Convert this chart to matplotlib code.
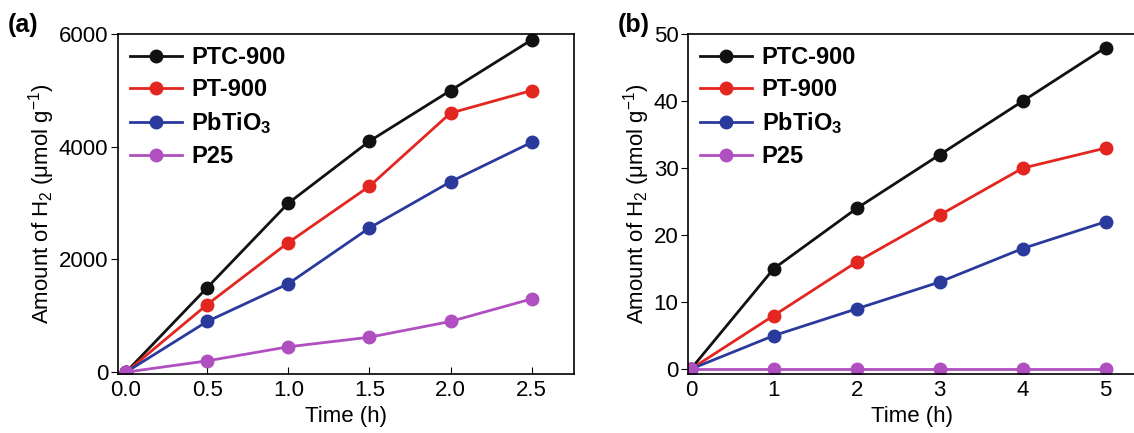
import numpy as np
import matplotlib
matplotlib.use('Agg')
from matplotlib import pyplot as plt

plt.rcParams['font.family'] = ['Liberation Sans', 'DejaVu Sans']
plt.rcParams['mathtext.default'] = 'regular'

labels = ['PTC-900', 'PT-900', 'PbTiO$_3$', 'P25']
colors = ['#111111', '#e3261f', '#2a3a9c', '#b04fc0']

# panel (a)
t_a = [0, 0.5, 1.0, 1.5, 2.0, 2.5]
ptc_a = [0, 1500, 3000, 4100, 5000, 5900]
pt_a = [0, 1200, 2300, 3300, 4600, 5000]
pbt_a = [0, 900, 1570, 2560, 3380, 4080]
p25_a = [0, 200, 450, 620, 900, 1300]

# panel (b)
t_b = [0, 1, 2, 3, 4, 5]
ptc_b = [0, 15, 24, 32, 40, 48]
pt_b = [0, 8, 16, 23, 30, 33]
pbt_b = [0, 5, 9, 13, 18, 22]
p25_b = [0, 0, 0, 0, 0, 0]

fig = plt.figure(figsize=(11.34, 4.33), dpi=100)
ax1 = fig.add_axes([0.104, 0.136, 0.402, 0.785])
ax2 = fig.add_axes([0.607, 0.136, 0.395, 0.785])

for ax, t, series in [(ax1, t_a, [ptc_a, pt_a, pbt_a, p25_a]),
                      (ax2, t_b, [ptc_b, pt_b, pbt_b, p25_b])]:
    for y, c, lab in zip(series, colors, labels):
        ax.plot(t, y, '-o', color=c, lw=2, ms=9, mec=c, label=lab)
    ax.set_xlabel('Time (h)', fontsize=16, labelpad=4)
    ax.set_ylabel('Amount of H$_2$ ($\\mu$mol g$^{-1}$)', fontsize=16, labelpad=1)
    ax.tick_params(axis='x', direction='in', length=5, labelsize=16, pad=4)
    ax.tick_params(axis='y', direction='out', length=5, labelsize=16, pad=2)
    for s in ax.spines.values():
        s.set_linewidth(1.2)
    leg = ax.legend(loc='upper left', frameon=False, prop={'weight': 'bold', 'size': 17},
                    handlelength=2.2, handletextpad=0.4, labelspacing=0.38,
                    borderaxespad=0.2, borderpad=0.3)

ax1.set_xlim(-0.05, 2.76)
ax1.set_ylim(-35, 6000)
ax1.set_xticks([0, 0.5, 1.0, 1.5, 2.0, 2.5])
ax1.set_xticklabels(['0.0', '0.5', '1.0', '1.5', '2.0', '2.5'])
ax1.set_yticks([0, 2000, 4000, 6000])

ax2.set_xlim(-0.03, 5.37)
ax2.set_ylim(-0.75, 50)
ax2.set_xticks([0, 1, 2, 3, 4, 5])
ax2.set_yticks([0, 10, 20, 30, 40, 50])

fig.text(0.007, 0.925, '(a)', fontsize=18, fontweight='bold')
fig.text(0.545, 0.925, '(b)', fontsize=18, fontweight='bold')

fig.savefig('out.png', dpi=100)
